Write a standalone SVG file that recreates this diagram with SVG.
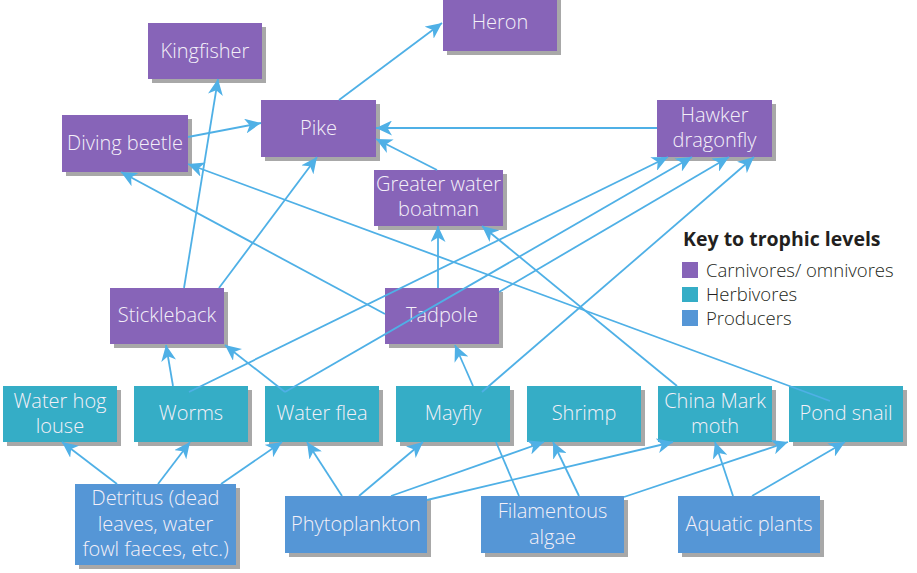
<svg xmlns="http://www.w3.org/2000/svg" width="917" height="573" viewBox="0 0 917 573">
<style>
.sh{fill:#a8a8a8}
.c{fill:#8764b8}
.h{fill:#35adc6}
.p{fill:#5596d6}
.t{font-family:"Open Sans","Liberation Sans",sans-serif;font-weight:300;font-size:20px;fill:#f4f0f8;text-anchor:middle}
.k{font-family:"Open Sans","Liberation Sans",sans-serif;font-weight:300;font-size:18.5px;fill:#231f20}
.kb{font-family:"Open Sans","Liberation Sans",sans-serif;font-size:19.5px;font-weight:bold;fill:#231f20}
#connectors path{stroke:#4fb0e6;stroke-width:1.8;fill:none}
#connectors path.a{marker-end:url(#ah)}
</style>
<defs>
<marker id="ah" markerUnits="userSpaceOnUse" markerWidth="17" markerHeight="15" refX="16" refY="7.5" orient="auto">
<path d="M0,0 L16,7.5 L0,15 L4.5,7.5 z" fill="#4fb0e6"/>
</marker>
</defs>
<rect width="917" height="573" fill="#ffffff"/>

<g id="heron"><rect class="sh" x="447" y="-1" width="114" height="56"/><rect class="c" x="443" y="-5" width="114" height="56"/><text class="t" x="500" y="29">Heron</text></g>
<g id="kingfisher"><rect class="sh" x="152" y="27" width="114" height="56"/><rect class="c" x="148" y="23" width="114" height="56"/><text class="t" x="205" y="58">Kingfisher</text></g>
<g id="pike"><rect class="sh" x="265" y="104" width="115" height="57"/><rect class="c" x="261" y="100" width="115" height="57"/><text class="t" x="318.5" y="135">Pike</text></g>
<g id="diving-beetle"><rect class="sh" x="66" y="119" width="126" height="57"/><rect class="c" x="62" y="115" width="126" height="57"/><text class="t" x="125" y="150">Diving beetle</text></g>
<g id="hawker-dragonfly"><rect class="sh" x="661" y="104" width="115" height="57"/><rect class="c" x="657" y="100" width="115" height="57"/><text class="t" x="714.5" y="122">Hawker</text><text class="t" x="714.5" y="147">dragonfly</text></g>
<g id="greater-water-boatman"><rect class="sh" x="378" y="174" width="129" height="56"/><rect class="c" x="374" y="170" width="129" height="56"/><text class="t" x="438.5" y="191">Greater water</text><text class="t" x="438.5" y="216">boatman</text></g>
<g id="stickleback"><rect class="sh" x="114" y="292" width="114" height="56"/><rect class="c" x="110" y="288" width="114" height="56"/><text class="t" x="167" y="322">Stickleback</text></g>
<g id="tadpole"><rect class="sh" x="389" y="292" width="114" height="56"/><rect class="c" x="385" y="288" width="114" height="56"/><text class="t" x="442" y="322">Tadpole</text></g>

<g id="water-hog-louse"><rect class="sh" x="7" y="390" width="114" height="56"/><rect class="h" x="3" y="386" width="114" height="56"/><text class="t" x="60" y="408">Water hog</text><text class="t" x="60" y="433">louse</text></g>
<g id="worms"><rect class="sh" x="138" y="390" width="114" height="56"/><rect class="h" x="134" y="386" width="114" height="56"/><text class="t" x="191" y="420">Worms</text></g>
<g id="water-flea"><rect class="sh" x="269" y="390" width="114" height="56"/><rect class="h" x="265" y="386" width="114" height="56"/><text class="t" x="322" y="420">Water flea</text></g>
<g id="mayfly"><rect class="sh" x="400" y="390" width="114" height="56"/><rect class="h" x="396" y="386" width="114" height="56"/><text class="t" x="453" y="420">Mayfly</text></g>
<g id="shrimp"><rect class="sh" x="531" y="390" width="114" height="56"/><rect class="h" x="527" y="386" width="114" height="56"/><text class="t" x="584" y="420">Shrimp</text></g>
<g id="china-mark-moth"><rect class="sh" x="662" y="390" width="114" height="56"/><rect class="h" x="658" y="386" width="114" height="56"/><text class="t" x="715" y="408">China Mark</text><text class="t" x="715" y="433">moth</text></g>
<g id="pond-snail"><rect class="sh" x="793" y="390" width="114" height="56"/><rect class="h" x="789" y="386" width="114" height="56"/><text class="t" x="846" y="420">Pond snail</text></g>

<g id="detritus"><rect class="sh" x="79" y="488" width="161" height="81"/><rect class="p" x="75" y="484" width="161" height="81"/><text class="t" x="155.5" y="505">Detritus (dead</text><text class="t" x="155.5" y="531">leaves, water</text><text class="t" x="155.5" y="556">fowl faeces, etc.)</text></g>
<g id="phytoplankton"><rect class="sh" x="289" y="500" width="142" height="57"/><rect class="p" x="285" y="496" width="142" height="57"/><text class="t" x="356" y="531">Phytoplankton</text></g>
<g id="filamentous-algae"><rect class="sh" x="485" y="500" width="143" height="57"/><rect class="p" x="481" y="496" width="143" height="57"/><text class="t" x="552.5" y="518">Filamentous</text><text class="t" x="552.5" y="544">algae</text></g>
<g id="aquatic-plants"><rect class="sh" x="682" y="500" width="142" height="57"/><rect class="p" x="678" y="496" width="142" height="57"/><text class="t" x="749" y="531">Aquatic plants</text></g>

<g id="connectors">
<path class="a" d="M339,100 L442,23"/>
<path class="a" d="M188,137 L261,123"/>
<path class="a" d="M657,128 L376,128"/>
<path class="a" d="M437,170 L376,139"/>
<path class="a" d="M184,288 L218,79"/>
<path class="a" d="M219,288 L317,157"/>
<path class="a" d="M385,314 L121,172"/>
<path class="a" d="M830,401 L188,164"/>
<path class="a" d="M438,288 L438,226"/>
<path class="a" d="M677,386 L482,226"/>
<path class="a" d="M189,392 L668,157"/>
<path class="a" d="M285,392 L692,157"/>
<path class="a" d="M499,292 L729,157"/>
<path class="a" d="M482,392 L754,157"/>
<path class="a" d="M173,386 L166,345"/>
<path class="a" d="M285,392 L225,345"/>
<path class="a" d="M473,386 L455,345"/>
<path d="M519,496 L496,442"/>
<path class="a" d="M117,484 L62,442"/>
<path class="a" d="M158,484 L190,442"/>
<path class="a" d="M221,484 L282,442"/>
<path class="a" d="M342,496 L307,442"/>
<path class="a" d="M359,496 L423,442"/>
<path class="a" d="M391,496 L544,442"/>
<path class="a" d="M427,500 L673,442"/>
<path class="a" d="M579,496 L553,442"/>
<path class="a" d="M624,497 L788,442"/>
<path class="a" d="M733,496 L715,442"/>
<path class="a" d="M752,496 L845,442"/>
</g>

<g id="key">
<text class="kb" x="683" y="246">Key to trophic levels</text>
<rect class="c" x="682" y="262" width="16" height="16"/><text class="k" x="706" y="277">Carnivores/ omnivores</text>
<rect class="h" x="682" y="287" width="16" height="15"/><text class="k" x="706" y="301">Herbivores</text>
<rect class="p" x="682" y="310" width="16" height="16"/><text class="k" x="706" y="325">Producers</text>
</g>
</svg>
